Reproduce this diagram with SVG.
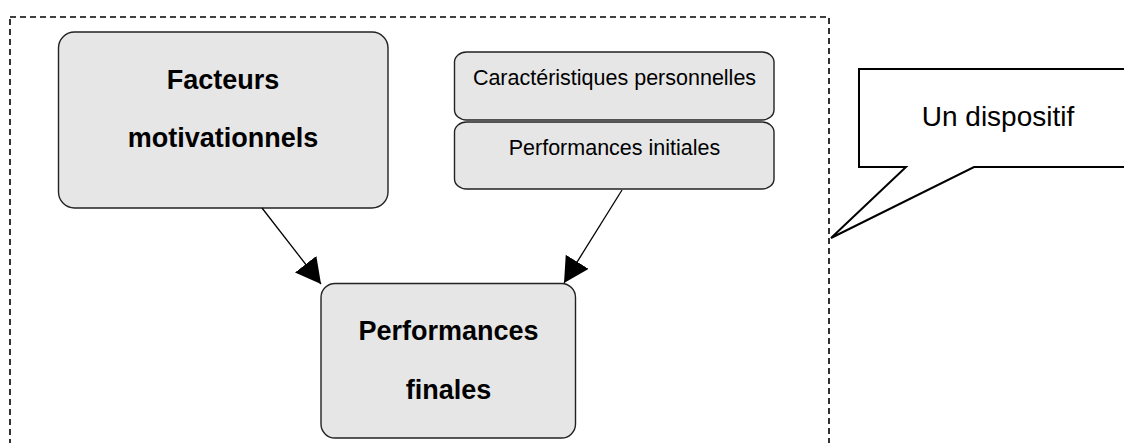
<svg xmlns="http://www.w3.org/2000/svg" width="1124" height="443" viewBox="0 0 1124 443">
<style>
.box{fill:#e6e6e6;stroke:#222;stroke-width:1.4}
.b{font-family:"Liberation Sans",Arial,sans-serif;font-weight:bold;font-size:27px;fill:#000;text-anchor:middle}
.r{font-family:"Liberation Sans",Arial,sans-serif;font-size:21.5px;fill:#000;text-anchor:middle}
.conn{stroke:#000;stroke-width:1.3;fill:none}
</style>
<defs>
<marker id="ah" markerUnits="userSpaceOnUse" markerWidth="26" markerHeight="28" refX="25" refY="13.5" orient="auto">
<path d="M0,0 L25,13.5 L0,27 z" fill="#000"/>
</marker>
</defs>
<rect id="frame" x="10" y="17" width="819" height="440" fill="none" stroke="#000" stroke-width="1.6" stroke-dasharray="6,4"/>
<g id="facteurs">
<rect class="box" x="58.5" y="32" width="329.5" height="176" rx="16" ry="16"/>
<text class="b" x="223" y="89">Facteurs</text>
<text class="b" x="223" y="147">motivationnels</text>
</g>
<g id="caracteristiques">
<rect class="box" x="454.5" y="52" width="319.5" height="68" rx="12" ry="10"/>
<text class="r" x="614.5" y="85">Caractéristiques personnelles</text>
</g>
<g id="initiales">
<rect class="box" x="454.5" y="122" width="319.5" height="67" rx="12" ry="10"/>
<text class="r" x="614.5" y="155">Performances initiales</text>
</g>
<g id="finales">
<rect class="box" x="321" y="283.5" width="254.5" height="154.5" rx="14" ry="14"/>
<text class="b" x="448.5" y="340">Performances</text>
<text class="b" x="448.5" y="399">finales</text>
</g>
<g id="callout">
<path d="M859,69 L1140,69 L1140,167 L974,167 L831,238 L906,167 L859,167 Z" fill="#fff" stroke="#000" stroke-width="2"/>
<text x="998" y="126" font-family="'Liberation Sans',Arial,sans-serif" font-size="28" text-anchor="middle" fill="#000">Un dispositif</text>
</g>
<g id="connectors">
<line class="conn" x1="262" y1="208" x2="321" y2="284" marker-end="url(#ah)"/>
<line class="conn" x1="622" y1="190" x2="564" y2="283" marker-end="url(#ah)"/>
</g>
</svg>
